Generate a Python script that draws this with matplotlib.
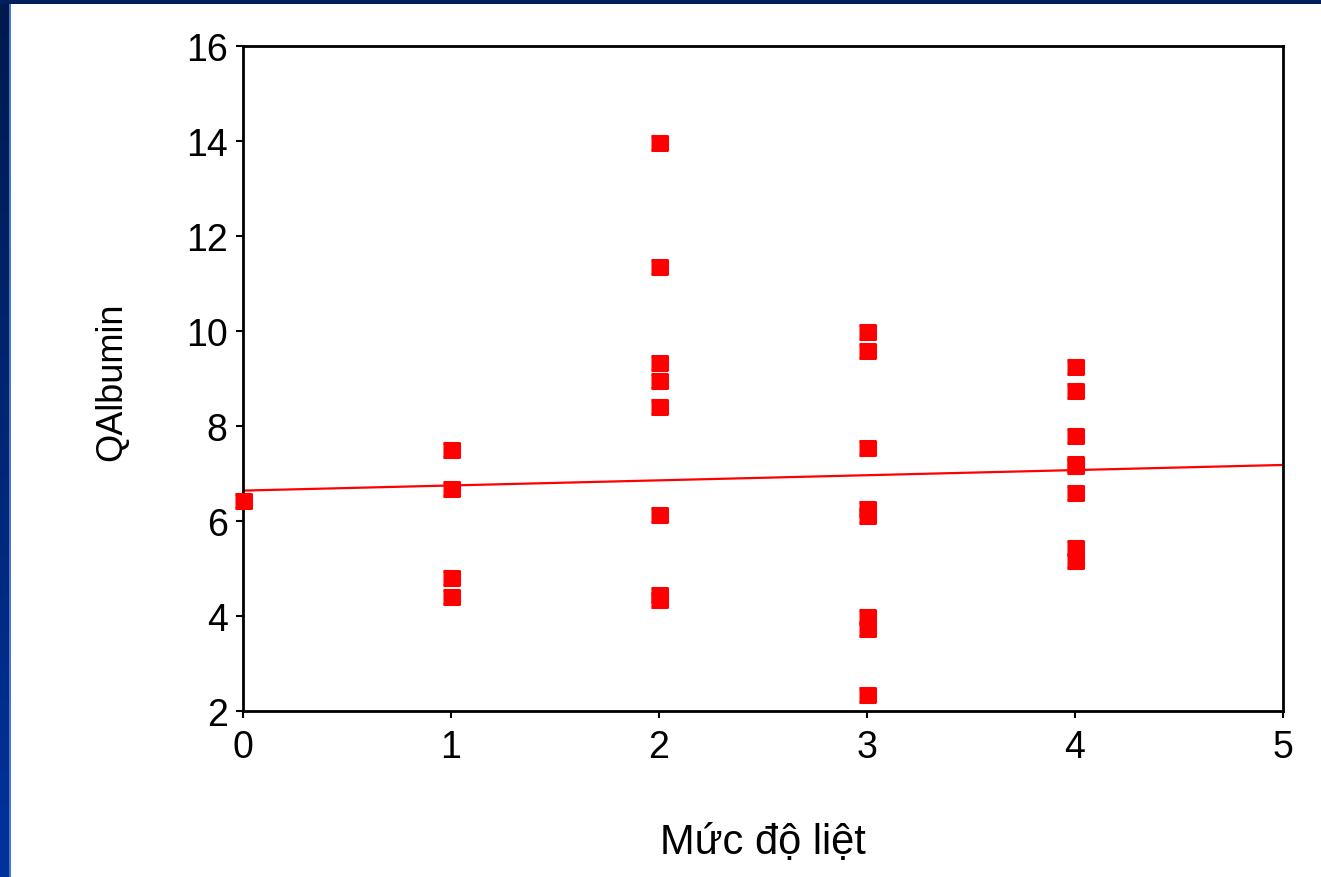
import numpy as np
import matplotlib.pyplot as plt
from matplotlib.patches import Rectangle
from matplotlib.colors import LinearSegmentedColormap

plt.rcParams['font.family'] = ['Liberation Sans', 'DejaVu Sans']

# values (Muc do liet vs QAlbumin)
level = [0,
         1, 1, 1, 1,
         2, 2, 2, 2, 2, 2, 2, 2,
         3, 3, 3, 3, 3, 3, 3, 3,
         4, 4, 4, 4, 4, 4, 4, 4]
qalbumin = [6.43,
            7.49, 6.67, 4.79, 4.41,
            13.96, 11.35, 9.33, 8.95, 8.41, 6.13, 4.45, 4.33,
            9.97, 9.57, 7.54, 6.25, 6.10, 3.97, 3.73, 2.34,
            9.24, 8.74, 7.78, 7.20, 7.15, 6.58, 5.43, 5.16]
# fitted line as drawn in the picture
fit_x = [0, 5]
fit_y = [6.64, 7.18]

x_ticks = [0, 1, 2, 3, 4, 5]
y_ticks = [2, 4, 6, 8, 10, 12, 14, 16]

fig = plt.figure(figsize=(13.21, 8.78), dpi=100)
fig.patch.set_facecolor('white')

# slide frame: blue gradient on the left, dark band on top
bg = fig.add_axes([0, 0, 9 / 1321, 1])
grad = np.linspace(0, 1, 256).reshape(-1, 1)
cmap = LinearSegmentedColormap.from_list('slide', ['#00339c', '#001a4d'])
bg.imshow(grad, aspect='auto', cmap=cmap, origin='lower', extent=[0, 1, 0, 1])
bg.set_axis_off()
fig.patches.append(Rectangle((0, 1 - 5 / 878), 1, 5 / 878, transform=fig.transFigure,
                             facecolor='#001f5c', edgecolor='none', zorder=5))
fig.patches.append(Rectangle((9 / 1321, 0), 1.5 / 1321, 1 - 5 / 878, transform=fig.transFigure,
                             facecolor='#4a78d0', edgecolor='none', zorder=5))

ax = fig.add_axes([243 / 1321, 166 / 878, 1040 / 1321, 665 / 878])

box = [(-1, -0.8), (1, -0.8), (1, 0.8), (-1, 0.8)]
ax.plot(level, qalbumin, linestyle='none', marker=box, markersize=12,
        color='#ff0000', markeredgecolor='#ff0000', markeredgewidth=2.2,
        clip_on=False, zorder=3)
ax.plot(fit_x, fit_y, color='#ff0000', linewidth=1.6, zorder=2)

ax.set_xlim(0, 5)
ax.set_ylim(2, 16)
ax.set_xticks(x_ticks)
ax.set_yticks(y_ticks)
ax.tick_params(direction='out', length=5, width=1.5, labelsize=27, pad=6, color='black')
ax.tick_params(axis='x', pad=8)
for s in ax.spines.values():
    s.set_linewidth(2)

ax.set_xlabel('Mức độ liệt', fontsize=30)
ax.xaxis.set_label_coords(0.5, -0.197)
ax.xaxis.label.set_va('center')
ax.set_ylabel('QAlbumin', fontsize=26)
ax.yaxis.set_label_coords(-0.126, 0.497)
ax.yaxis.label.set_va('center')

fig.savefig('out.png', dpi=100)
